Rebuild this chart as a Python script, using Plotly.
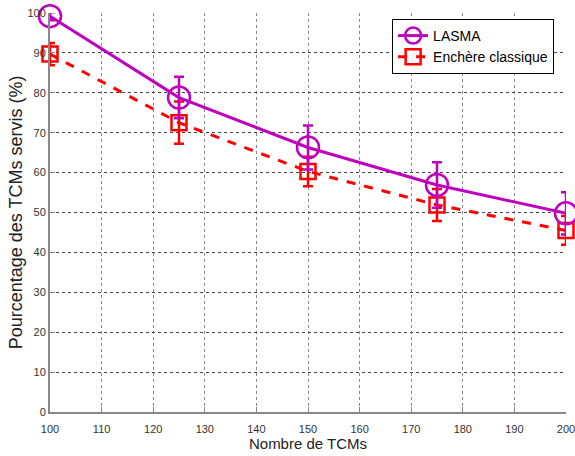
import plotly.graph_objects as go

x_vals = [100, 125, 150, 175, 200]
lasma = [99.2, 78.8, 66.3, 56.9, 49.8]
lasma_err = [1.0, 5.2, 5.5, 5.7, 5.3]
enchere = [89.7, 72.5, 60.3, 51.9, 45.5]
enchere_err = [2.8, 5.3, 3.7, 4.0, 3.6]

x_ticks = list(range(100, 201, 10))
y_ticks = list(range(0, 101, 10))

magenta = "#BF00BF"
red = "#FF0000"

fig = go.Figure()
fig.add_trace(go.Scatter(
    x=x_vals, y=enchere, name="Enchère classique", mode="lines+markers",
    line=dict(color=red, width=3, dash="dash"),
    marker=dict(symbol="square-open", size=15, color=red, line=dict(width=2.5, color=red)),
    error_y=dict(type="data", array=enchere_err, color=red, thickness=2.5, width=5),
    cliponaxis=False,
))
fig.add_trace(go.Scatter(
    x=x_vals, y=lasma, name="LASMA", mode="lines+markers",
    line=dict(color=magenta, width=3),
    marker=dict(symbol="circle-open", size=22, color=magenta, line=dict(width=2.5, color=magenta)),
    error_y=dict(type="data", array=lasma_err, color=magenta, thickness=2.5, width=5),
    cliponaxis=False,
))

fig.update_layout(
    width=575, height=456,
    margin=dict(l=50, r=9, t=13, b=44, autoexpand=False),
    plot_bgcolor="white", paper_bgcolor="white",
    font=dict(family="Liberation Sans, Arial, sans-serif", color="#222"),
    showlegend=True,
    legend=dict(
        x=0.663, y=0.985, xanchor="left", yanchor="top",
        bordercolor="black", borderwidth=1, bgcolor="white",
        font=dict(size=14, color="black"), traceorder="reversed",
        tracegroupgap=0,
    ),
)
fig.update_xaxes(
    range=[100, 200], tickvals=x_ticks, ticktext=[str(v) for v in x_ticks],
    showgrid=True, gridcolor="#888", griddash="dot", gridwidth=1,
    showline=True, linecolor="#888", linewidth=2,
    ticks="inside", ticklen=5, tickcolor="#888",
    tickfont=dict(size=11, color="#333"),
    ticklabeloverflow="allow", ticklabelstandoff=6,
    automargin=False,
    title=dict(text="Nombre de TCMs", font=dict(size=15, color="#222"), standoff=4),
    zeroline=False,
)
fig.update_yaxes(
    range=[0, 100], tickvals=y_ticks, ticktext=[str(v) for v in y_ticks],
    showgrid=True, gridcolor="#444", griddash="dot", gridwidth=1,
    showline=True, linecolor="#888", linewidth=2,
    ticks="inside", ticklen=5, tickcolor="#888",
    tickfont=dict(size=11, color="#333"),
    ticklabeloverflow="allow",
    automargin=False,
    title=dict(text="Pourcentage des TCMs servis (%)", font=dict(size=18, color="#222"), standoff=0),
    zeroline=False,
)

fig.write_html("out.html", config={"displayModeBar": False})

with open("out.html", "r", encoding="utf-8") as f:
    html = f.read()
html = html.replace("<body>", '<body style="margin:0;padding:0;overflow:hidden">', 1)
with open("out.html", "w", encoding="utf-8") as f:
    f.write(html)
